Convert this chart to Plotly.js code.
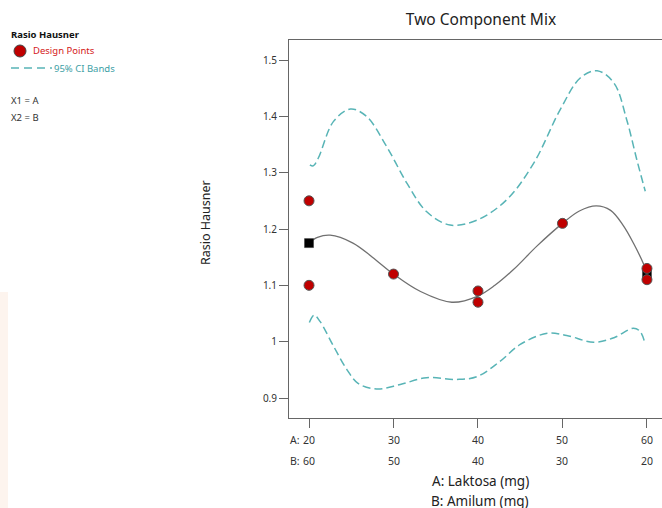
<!DOCTYPE html>
<html>
<head>
<meta charset="utf-8">
<script src="https://cdn.plot.ly/plotly-3.0.1.min.js"></script>
<style>html,body{margin:0;padding:0;background:#fff;}#chart{width:662px;height:508px;}</style>
</head>
<body>
<div id="chart"></div>
<script>
// ---- data ----
var tickA = [20, 30, 40, 50, 60];
var tickB = [60, 50, 40, 30, 20];
var yTicks = [0.9, 1.0, 1.1, 1.2, 1.3, 1.4, 1.5];
var yTickText = ["0.9", "1", "1.1", "1.2", "1.3", "1.4", "1.5"];

var designX = [20, 20, 30, 40, 40, 50, 60, 60];
var designY = [1.25, 1.10, 1.12, 1.09, 1.07, 1.21, 1.13, 1.11];

var squareX = [20, 60];
var squareY = [1.175, 1.12];

var fitX = [20, 21, 22.5, 25.2, 27.5, 30, 33.2, 36.9, 40, 42, 44.2, 47, 50, 52, 54, 55.7, 57.2, 58.5, 59.6, 60];
var fitY = [1.175, 1.185, 1.189, 1.175, 1.150, 1.120, 1.089, 1.070, 1.081, 1.100, 1.128, 1.170, 1.210, 1.232, 1.241, 1.233, 1.206, 1.172, 1.138, 1.123];

var upperX = [20.1, 20.5, 21.1, 22.9, 24.9, 26.8, 29.2, 31.6, 33.9, 36.7, 39.9, 43.4, 46.6, 49.7, 52.1, 54.1, 56.1, 57.6, 58.8, 59.8];
var upperY = [1.314, 1.312, 1.326, 1.391, 1.413, 1.400, 1.346, 1.281, 1.231, 1.207, 1.216, 1.252, 1.317, 1.411, 1.468, 1.481, 1.459, 1.394, 1.323, 1.267];

var lowerX = [20.04, 20.6, 21.3, 22.9, 24.5, 25.8, 28.0, 30.8, 33.9, 37.5, 39.9, 42.6, 45.0, 48.2, 50.5, 53.7, 56.1, 58.4, 59.2, 59.8];
var lowerY = [1.034, 1.047, 1.036, 0.992, 0.950, 0.926, 0.916, 0.924, 0.936, 0.933, 0.938, 0.965, 0.995, 1.015, 1.011, 0.999, 1.007, 1.024, 1.018, 0.995];

// ---- styling ----
var FONT = "Noto Sans, Open Sans, sans-serif";
var TEAL = "rgb(88,180,182)";
var RED = "#c00000";
var W = 662, H = 508, L = 289, R = 0, T = 40, B = 90;
var pw = W - L - R, ph = H - T - B;
function px(x) { return (x - L) / pw; }
function py(y) { return (H - B - y) / ph; }

var ciLine = {color: TEAL, width: 1.5, dash: "8px,4px", shape: "spline", smoothing: 1};

var traces = [
  {x: upperX, y: upperY, mode: "lines", line: ciLine, hoverinfo: "skip"},
  {x: lowerX, y: lowerY, mode: "lines", line: ciLine, hoverinfo: "skip"},
  {x: fitX, y: fitY, mode: "lines", line: {color: "#707070", width: 1.3, shape: "spline", smoothing: 1}, hoverinfo: "skip"},
  {x: squareX, y: squareY, mode: "markers", marker: {symbol: "square", size: 9, color: "#000", line: {color: "#333", width: 0.5}}},
  {x: designX, y: designY, mode: "markers", marker: {symbol: "circle", size: 10, color: RED, line: {color: "#555", width: 1}}}
];

var annotations = [];
for (var i = 0; i < tickA.length; i++) {
  annotations.push({x: tickA[i], xref: "x", y: py(440), yref: "paper", text: String(tickA[i]), showarrow: false, xanchor: "center", yanchor: "middle", font: {family: FONT, size: 10.5, color: "#333"}});
  annotations.push({x: tickA[i], xref: "x", y: py(461), yref: "paper", text: String(tickB[i]), showarrow: false, xanchor: "center", yanchor: "middle", font: {family: FONT, size: 10.5, color: "#333"}});
}
annotations.push({x: tickA[0], xref: "x", xshift: -7, y: py(440), yref: "paper", text: "A:", showarrow: false, xanchor: "right", yanchor: "middle", font: {family: FONT, size: 10.5, color: "#333"}});
annotations.push({x: tickA[0], xref: "x", xshift: -7, y: py(461), yref: "paper", text: "B:", showarrow: false, xanchor: "right", yanchor: "middle", font: {family: FONT, size: 10.5, color: "#333"}});
// axis titles
annotations.push({x: px(480), xref: "paper", y: py(481), yref: "paper", text: "A: Laktosa (mg)", showarrow: false, xanchor: "center", yanchor: "middle", font: {family: FONT, size: 13.5, color: "#222"}});
annotations.push({x: px(480), xref: "paper", y: py(501), yref: "paper", text: "B: Amilum (mg)", showarrow: false, xanchor: "center", yanchor: "middle", font: {family: FONT, size: 13.5, color: "#222"}});
annotations.push({x: px(206), xref: "paper", y: py(223), yref: "paper", text: "Rasio Hausner", textangle: -90, showarrow: false, xanchor: "center", yanchor: "middle", font: {family: FONT, size: 12.5, color: "#222"}});
// legend block
annotations.push({x: px(9), xref: "paper", y: py(35), yref: "paper", text: "<b>Rasio Hausner</b>", showarrow: false, xanchor: "left", yanchor: "middle", font: {family: FONT, size: 9.5, color: "#111"}});
annotations.push({x: px(31), xref: "paper", y: py(51), yref: "paper", text: "Design Points", showarrow: false, xanchor: "left", yanchor: "middle", font: {family: FONT, size: 9.5, color: "#d42020"}});
annotations.push({x: px(52), xref: "paper", y: py(68), yref: "paper", text: "95% CI Bands", showarrow: false, xanchor: "left", yanchor: "middle", font: {family: FONT, size: 9.5, color: "rgb(60,160,165)"}});
annotations.push({x: px(9), xref: "paper", y: py(100), yref: "paper", text: "X1 = A", showarrow: false, xanchor: "left", yanchor: "middle", font: {family: FONT, size: 9.5, color: "#333"}});
annotations.push({x: px(9), xref: "paper", y: py(117), yref: "paper", text: "X2 = B", showarrow: false, xanchor: "left", yanchor: "middle", font: {family: FONT, size: 9.5, color: "#333"}});

var shapes = [
  {type: "rect", xref: "paper", yref: "paper", x0: px(0), x1: px(8), y0: py(508), y1: py(292), fillcolor: "#fdf4ee", line: {width: 0}, layer: "below"},
  {type: "circle", xref: "paper", yref: "paper", x0: px(14), x1: px(26), y0: py(57), y1: py(45), fillcolor: RED, line: {color: "#444", width: 1}},
  {type: "line", xref: "paper", yref: "paper", x0: px(11), x1: px(52), y0: py(68), y1: py(68), line: {color: TEAL, width: 1.3, dash: "8px,5px"}}
];

var layout = {
  width: W, height: H,
  margin: {l: L, r: R, t: T, b: B, pad: 0},
  paper_bgcolor: "#fff", plot_bgcolor: "#fff",
  showlegend: false,
  font: {family: FONT, color: "#333"},
  title: {text: "Two Component Mix", x: 481 / W, xref: "container", xanchor: "center", y: 1 - 20 / H, yref: "container", yanchor: "middle", font: {family: FONT, size: 15.5, color: "#222"}},
  xaxis: {range: [17.63, 61.78], tickvals: tickA, ticktext: tickA.map(function(){return "";}), ticks: "outside", ticklen: 9, tickcolor: "#666", tickwidth: 1, showline: true, linecolor: "#666", linewidth: 1, mirror: true, showgrid: false, zeroline: false, fixedrange: true},
  yaxis: {range: [0.8645, 1.5355], tickvals: yTicks, ticktext: yTickText, ticks: "outside", ticklen: 9, tickcolor: "#666", tickwidth: 1, showline: true, linecolor: "#666", linewidth: 1, showgrid: false, zeroline: false, tickfont: {family: FONT, size: 10, color: "#333"}, fixedrange: true},
  annotations: annotations,
  shapes: shapes
};

Plotly.newPlot("chart", traces, layout, {displayModeBar: false, staticPlot: true});
</script>
</body>
</html>
